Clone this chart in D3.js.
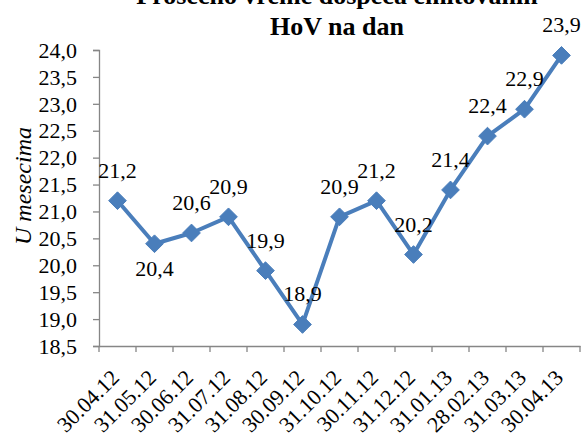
<!DOCTYPE html>
<html>
<head>
<meta charset="utf-8">
<script src="https://cdn.jsdelivr.net/npm/d3@7"></script>
<style>
  body { margin: 0; background: #fff; }
</style>
</head>
<body>
<script>
// Chart size
const w = 583;
const h = 441;

// Data
const dates = ["30.04.12", "31.05.12", "30.06.12", "31.07.12", "31.08.12", "30.09.12",
  "31.10.12", "30.11.12", "31.12.12", "31.01.13", "28.02.13", "31.03.13", "30.04.13"];
const values = [21.2, 20.4, 20.6, 20.9, 19.9, 18.9, 20.9, 21.2, 20.2, 21.4, 22.4, 22.9, 23.9];
const yTicks = [18.5, 19.0, 19.5, 20.0, 20.5, 21.0, 21.5, 22.0, 22.5, 23.0, 23.5, 24.0];
const titleLines = ["Prosečno vreme dospeća emitovanih", "HoV na dan"];
const yTitle = "U mesecima";
// labels that sit under their point
const labelsBelow = ["31.05.12"];

// Plot area
const plotLeft = 99, plotRight = 580, plotTop = 50, plotBottom = 346;
const blue = "#4a7ebb";
const axisColor = "#868686";
const serif = "'Liberation Serif', 'Times New Roman', serif";

const fmt = v => d3.format(".1f")(v).replace(".", ",");

const svg = d3.select("body").append("svg")
  .attr("width", w).attr("height", h)
  .attr("font-family", serif);

const xScale = d3.scaleBand().domain(dates).range([plotLeft, plotRight]);
const yScale = d3.scaleLinear().domain([18.5, 24]).range([plotBottom, plotTop]);

// Y axis
const yAxis = svg.append("g")
  .attr("transform", "translate(" + plotLeft + ",0)")
  .call(d3.axisLeft(yScale).tickValues(yTicks).tickFormat(fmt).tickSize(6).tickPadding(16));
yAxis.attr("font-family", serif).attr("font-size", 22);
yAxis.select(".domain").attr("stroke", axisColor).attr("stroke-width", 1.3);
yAxis.selectAll(".tick line").attr("stroke", axisColor).attr("stroke-width", 1.3);
yAxis.selectAll("text").attr("fill", "#000").attr("dy", "0.33em");

// X axis: ticks at the band edges
const xAxis = svg.append("g")
  .attr("transform", "translate(0," + plotBottom + ")")
  .call(d3.axisBottom(xScale).tickSize(0).tickFormat(""));
xAxis.attr("font-family", serif).attr("font-size", 22);
xAxis.select(".domain").attr("stroke", axisColor).attr("stroke-width", 1.3);
xAxis.selectAll(".tick").remove();

const edges = dates.map(d => xScale(d)).concat([plotRight]);
xAxis.selectAll("line.edge")
  .data(edges)
  .enter()
  .append("line")
  .attr("class", "edge")
  .attr("x1", d => d).attr("x2", d => d)
  .attr("y1", 0).attr("y2", 6)
  .attr("stroke", axisColor).attr("stroke-width", 1.3);

// rotated date labels
xAxis.selectAll("text.date")
  .data(dates)
  .enter()
  .append("text")
  .attr("class", "date")
  .attr("fill", "#000")
  .attr("text-anchor", "end")
  .attr("transform", d => "translate(" + (xScale(d) + xScale.bandwidth() / 2 + 3) + ",33)rotate(-45)")
  .text(d => d);

// Line and markers
const cx = d => xScale(d) + xScale.bandwidth() / 2;

svg.append("path")
  .datum(values)
  .attr("fill", "none")
  .attr("stroke", blue)
  .attr("stroke-width", 4)
  .attr("stroke-linejoin", "round")
  .attr("d", d3.line().x((d, i) => cx(dates[i])).y(d => yScale(d)));

svg.selectAll("path.marker")
  .data(values)
  .enter()
  .append("path")
  .attr("class", "marker")
  .attr("d", d3.symbol().type(d3.symbolDiamond2).size(200))
  .attr("transform", (d, i) => "translate(" + cx(dates[i]) + "," + yScale(d) + ")")
  .attr("fill", blue)
  .attr("stroke", blue)
  .attr("stroke-width", 1);

// Data labels
svg.selectAll("text.val")
  .data(values)
  .enter()
  .append("text")
  .attr("class", "val")
  .attr("font-size", 22)
  .attr("text-anchor", "middle")
  .attr("x", (d, i) => cx(dates[i]))
  .attr("y", (d, i) => yScale(d) + (labelsBelow.includes(dates[i]) ? 32 : -23))
  .text(d => fmt(d));

// Title
svg.append("text")
  .attr("text-anchor", "middle")
  .attr("font-size", 26)
  .attr("font-weight", "bold")
  .selectAll("tspan")
  .data(titleLines)
  .enter()
  .append("tspan")
  .attr("x", 337)
  .attr("y", (d, i) => 4 + i * 31)
  .text(d => d);

// Y title
svg.append("text")
  .attr("transform", "translate(31,186)rotate(-90)")
  .attr("text-anchor", "middle")
  .attr("font-size", 24)
  .attr("font-style", "italic")
  .text(yTitle);
</script>
</body>
</html>
